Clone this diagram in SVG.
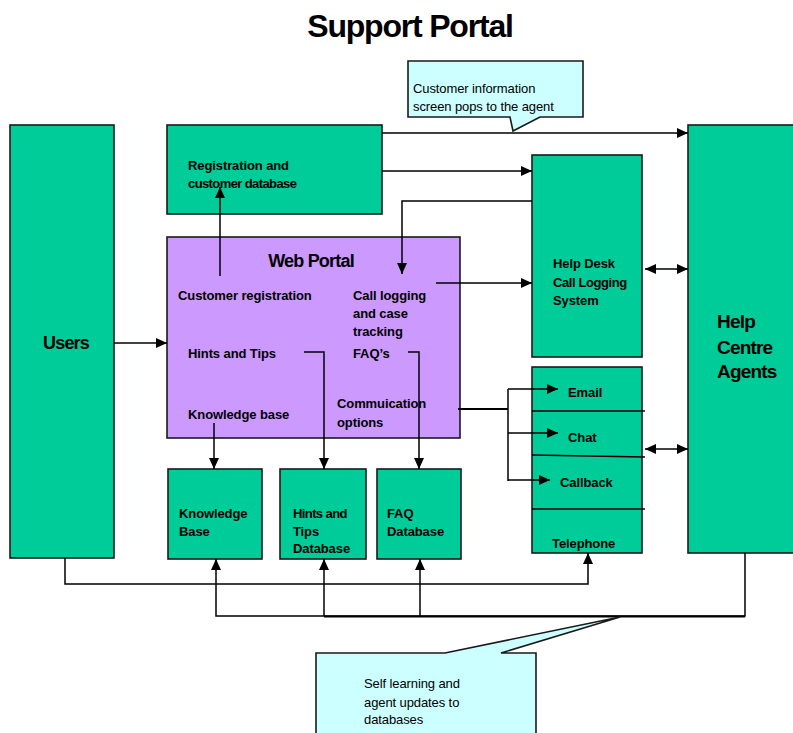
<svg xmlns="http://www.w3.org/2000/svg" width="793" height="733" viewBox="0 0 793 733">
<style>
.box{fill:#00CC99;stroke:#1a1a1a;stroke-width:1.6}
.portal{fill:#CC99FF;stroke:#1a1a1a;stroke-width:1.6}
.call{fill:#CCFFFF;stroke:#1a1a1a;stroke-width:1.6}
.t{font-family:"Liberation Sans",Arial,sans-serif;font-weight:bold;font-size:13px;fill:#000;letter-spacing:-0.1px}
.r{font-family:"Liberation Sans",Arial,sans-serif;font-size:13px;fill:#000;letter-spacing:-0.1px}
.big{font-size:19px;letter-spacing:-0.8px}
.ln{fill:none;stroke:#000;stroke-width:1.5}
</style>
<defs>
<marker id="ah" viewBox="0 0 11 10" refX="11" refY="5" markerWidth="11" markerHeight="10" markerUnits="userSpaceOnUse" orient="auto-start-reverse">
<path d="M0,0 L11,5 L0,10 Z" fill="#000"/>
</marker>
</defs>
<text x="410" y="37" text-anchor="middle" style="font-family:'Liberation Sans',Arial,sans-serif;font-weight:bold;font-size:32px;letter-spacing:-1.2px">Support Portal</text>

<g id="callout-top">
<path class="call" d="M408,61 H583 V117 H540 L513,131 L510,117 H408 Z"/>
<text class="r" x="413" y="93">Customer information</text>
<text class="r" x="413" y="111">screen pops to the agent</text>
</g>

<g id="users"><rect class="box" x="10" y="125" width="104" height="433"/><text class="t" x="66" y="349" text-anchor="middle" style="font-size:18px;letter-spacing:-0.8px">Users</text></g>

<g id="registration"><rect class="box" x="167" y="125" width="215" height="89"/><text class="t" x="188" y="170">Registration and</text><text class="t" x="188" y="188" style="letter-spacing:-0.6px">customer database</text></g>

<g id="webportal"><rect class="portal" x="167" y="237" width="293" height="201"/>
<text class="t" x="311" y="267" text-anchor="middle" style="font-size:18px;letter-spacing:-0.8px">Web Portal</text>
<text class="t" x="178" y="300">Customer registration</text>
<text class="t" x="353" y="300">Call logging</text>
<text class="t" x="353" y="318">and case</text>
<text class="t" x="353" y="336">tracking</text>
<text class="t" x="188" y="358">Hints and Tips</text>
<text class="t" x="353" y="358">FAQ’s</text>
<text class="t" x="337" y="408">Commuication</text>
<text class="t" x="337" y="427">options</text>
<text class="t" x="188" y="419">Knowledge base</text>
</g>

<g id="kb"><rect class="box" x="168" y="469" width="94" height="90"/><text class="t" x="179" y="518">Knowledge</text><text class="t" x="179" y="536">Base</text></g>
<g id="hintsdb"><rect class="box" x="280" y="469" width="86" height="90"/><text class="t" x="293" y="518" style="letter-spacing:-0.6px">Hints and</text><text class="t" x="293" y="536">Tips</text><text class="t" x="293" y="553">Database</text></g>
<g id="faqdb"><rect class="box" x="377" y="469" width="84" height="90"/><text class="t" x="387" y="518">FAQ</text><text class="t" x="387" y="536">Database</text></g>

<g id="helpdesk"><rect class="box" x="532" y="155" width="110" height="202"/><text class="t" x="553" y="268">Help Desk</text><text class="t" x="553" y="287" style="letter-spacing:-0.4px">Call Logging</text><text class="t" x="553" y="305">System</text></g>

<g id="channels"><rect class="box" x="532" y="367" width="110" height="186"/>
<line class="ln" x1="532" y1="411" x2="645" y2="411"/>
<line class="ln" x1="532" y1="455" x2="645" y2="457"/>
<line class="ln" x1="532" y1="509" x2="645" y2="509"/>
<text class="t" x="568" y="397">Email</text>
<text class="t" x="568" y="442">Chat</text>
<text class="t" x="560" y="487">Callback</text>
<text class="t" x="552" y="548">Telephone</text>
</g>

<g id="agents"><rect class="box" x="688" y="125" width="110" height="428"/><text class="t big" x="717" y="328">Help</text><text class="t big" x="717" y="354">Centre</text><text class="t big" x="717" y="378">Agents</text></g>

<g id="connectors">
<line class="ln" x1="114" y1="343" x2="167" y2="343" marker-end="url(#ah)"/>
<line class="ln" x1="220" y1="276" x2="220" y2="187" marker-end="url(#ah)"/>
<line class="ln" x1="382" y1="133" x2="688" y2="133" marker-end="url(#ah)"/>
<line class="ln" x1="382" y1="171" x2="532" y2="171" marker-end="url(#ah)"/>
<path class="ln" d="M532,201 H402 V274" marker-end="url(#ah)"/>
<line class="ln" x1="436" y1="283" x2="532" y2="283" marker-end="url(#ah)"/>
<line class="ln" x1="645" y1="269" x2="688" y2="269" marker-start="url(#ah)" marker-end="url(#ah)"/>
<line class="ln" x1="645" y1="449" x2="688" y2="449" marker-start="url(#ah)" marker-end="url(#ah)"/>
<line x1="458" y1="409" x2="508" y2="409" stroke="#000" stroke-width="2.2"/>
<line class="ln" x1="508" y1="389" x2="508" y2="481"/>
<line class="ln" x1="508" y1="389" x2="558" y2="389" marker-end="url(#ah)"/>
<line class="ln" x1="508" y1="433" x2="558" y2="433" marker-end="url(#ah)"/>
<line class="ln" x1="508" y1="480" x2="550" y2="480" marker-end="url(#ah)"/>
<path class="ln" d="M304,352 H324 V469" marker-end="url(#ah)"/>
<path class="ln" d="M408,352 H419 V469" marker-end="url(#ah)"/>
<line class="ln" x1="214" y1="423" x2="214" y2="469" marker-end="url(#ah)"/>
<path class="ln" d="M65,558 V584 H588 V553" marker-end="url(#ah)"/>
<path class="ln" d="M745,553 V616 H216 V559" marker-end="url(#ah)"/>
<line x1="324" y1="616.5" x2="745" y2="616.5" stroke="#000" stroke-width="2.2"/>
<line class="ln" x1="324" y1="616" x2="324" y2="559" marker-end="url(#ah)"/>
<line class="ln" x1="420" y1="616" x2="420" y2="559" marker-end="url(#ah)"/>
</g>

<g id="callout-bottom">
<path class="call" d="M316,653 H445 L620,617 L501,653 H536 V740 H316 Z"/>
<text class="r" x="364" y="688">Self learning and</text>
<text class="r" x="364" y="707">agent updates to</text>
<text class="r" x="364" y="724">databases</text>
</g>
</svg>
